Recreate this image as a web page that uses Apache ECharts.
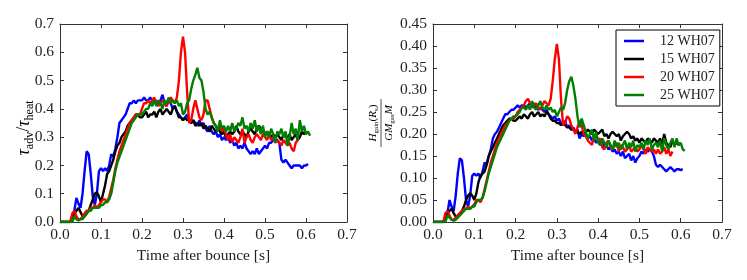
<!DOCTYPE html>
<html>
<head>
<meta charset="utf-8">
<script src="https://cdn.jsdelivr.net/npm/echarts@6/dist/echarts.min.js"></script>
<style>html,body{margin:0;padding:0;background:#fff}#c{width:747px;height:280px}</style>
</head>
<body>
<div id="c"></div>
<script>
// sampling times [s]
var times = [0,0.005,0.01,0.015,0.02,0.025,0.03,0.035,0.04,0.045,0.05,0.055,0.06,0.065,0.07,0.075,0.08,0.085,0.09,0.095,
0.1,0.105,0.11,0.115,0.12,0.125,0.13,0.135,0.14,0.145,0.15,0.155,0.16,0.165,0.17,0.175,0.18,0.185,0.19,0.195,
0.2,0.205,0.21,0.215,0.22,0.225,0.23,0.235,0.24,0.245,0.25,0.255,0.26,0.265,0.27,0.275,0.28,0.285,0.29,0.295,
0.3,0.305,0.31,0.315,0.32,0.325,0.33,0.335,0.34,0.345,0.35,0.355,0.36,0.365,0.37,0.375,0.38,0.385,0.39,0.395,
0.4,0.405,0.41,0.415,0.42,0.425,0.43,0.435,0.44,0.445,0.45,0.455,0.46,0.465,0.47,0.475,0.48,0.485,0.49,0.495,
0.5,0.505,0.51,0.515,0.52,0.525,0.53,0.535,0.54,0.545,0.55,0.555,0.56,0.565,0.57,0.575,0.58,0.585,0.59,0.595,
0.6,0.605,0.61];

var seriesNames = ['12 WH07','15 WH07','20 WH07','25 WH07'];
var seriesColors = ['#0000ff','#000000','#ff0000','#008000'];

// Left panel: tau_adv / tau_heat
var tau12 = [0,0,0,0,0,0,
0.01,0.04,0.085,0.065,0.05,0.10,0.18,0.25,0.24,0.17,
0.09,0.06,0.10,0.18,0.19,0.18,0.19,0.18,0.20,0.24,
0.23,0.26,0.30,0.35,0.36,0.37,0.38,0.40,0.42,0.42,
0.43,0.42,0.43,0.43,0.43,0.44,0.43,0.43,0.44,0.43,
0.42,0.43,0.42,0.43,0.45,0.42,0.41,0.43,0.42,0.40,
0.41,0.39,0.38,0.37,0.36,0.37,0.38,0.36,0.35,0.36,
0.35,0.34,0.36,0.34,0.35,0.33,0.32,0.34,0.32,0.31,
0.32,0.30,0.31,0.29,0.30,0.29,0.30,0.28,0.29,0.27,
0.28,0.26,0.27,0.26,0.28,0.26,0.25,0.24,0.25,0.24,
0.26,0.24,0.25,0.26,0.27,0.26,0.28,0.28,0.29,0.29,
0.29,0.28,0.22,0.21,0.22,0.21,0.20,0.19,0.20,0.20,
0.20,0.20,0.19,0.20,0.20,0.205];
var tau15 = [0,0,0,0,0,0,
0.02,0.03,0.04,0.05,0.035,0.02,0.02,0.03,0.04,0.06,
0.08,0.10,0.105,0.09,0.07,0.10,0.13,0.17,0.18,0.20,
0.22,0.25,0.27,0.28,0.30,0.31,0.32,0.34,0.35,0.36,
0.37,0.38,0.38,0.37,0.37,0.38,0.39,0.37,0.38,0.38,
0.39,0.37,0.39,0.40,0.38,0.39,0.40,0.39,0.38,0.40,
0.41,0.39,0.37,0.37,0.36,0.37,0.36,0.36,0.35,0.36,
0.34,0.35,0.34,0.35,0.33,0.34,0.33,0.32,0.34,0.33,
0.32,0.33,0.32,0.31,0.32,0.30,0.31,0.32,0.31,0.32,
0.34,0.32,0.31,0.32,0.31,0.30,0.32,0.33,0.32,0.31,
0.33,0.34,0.33,0.32,0.31,0.32,0.31,0.30,0.31,0.30,
0.31,0.30,0.29,0.31,0.30,0.30,0.31,0.29,0.30,0.31,
0.29,0.30,0.32,0.31,0.32];
var tau20 = [0,0,0,0,0,0,
0.03,0.04,0.02,0.01,0.01,0.02,0.03,0.04,0.04,0.05,
0.05,0.06,0.05,0.06,0.07,0.08,0.08,0.07,0.09,0.12,
0.15,0.19,0.22,0.25,0.27,0.29,0.31,0.33,0.35,0.36,
0.37,0.38,0.38,0.38,0.40,0.42,0.42,0.43,0.42,0.43,
0.44,0.42,0.41,0.42,0.43,0.42,0.41,0.43,0.44,0.43,
0.42,0.44,0.50,0.60,0.655,0.60,0.46,0.35,0.36,0.40,
0.43,0.40,0.37,0.36,0.38,0.43,0.43,0.40,0.37,0.35,
0.34,0.33,0.34,0.32,0.33,0.31,0.29,0.31,0.28,0.30,
0.29,0.28,0.30,0.33,0.28,0.30,0.31,0.29,0.28,0.30,
0.31,0.30,0.29,0.31,0.30,0.29,0.31,0.29,0.30,0.28,
0.29,0.28,0.27,0.29,0.28,0.27,0.28,0.26,0.25,0.28,
0.29];
var tau25 = [0,0,0,0,0,0,0,
0.02,0.01,0.005,0.01,0.01,0.02,0.03,0.04,0.04,0.05,
0.05,0.05,0.05,0.06,0.06,0.07,0.07,0.08,0.10,0.14,
0.18,0.21,0.23,0.25,0.27,0.29,0.31,0.33,0.35,0.36,
0.37,0.38,0.38,0.38,0.39,0.40,0.40,0.42,0.41,0.43,
0.41,0.43,0.42,0.40,0.43,0.42,0.44,0.42,0.43,0.42,
0.43,0.41,0.42,0.38,0.39,0.42,0.43,0.47,0.50,0.52,
0.545,0.51,0.50,0.46,0.40,0.38,0.39,0.37,0.35,0.34,
0.32,0.36,0.33,0.34,0.32,0.34,0.32,0.35,0.32,0.33,
0.35,0.34,0.37,0.33,0.34,0.32,0.35,0.33,0.36,0.32,
0.34,0.31,0.34,0.30,0.32,0.30,0.33,0.31,0.28,0.32,
0.31,0.33,0.30,0.32,0.27,0.30,0.35,0.31,0.33,0.29,
0.36,0.32,0.34,0.31,0.32,0.305];

// Right panel: H_gain(R_s) / (G M_gas M)
var heat12 = [0,0,0,0,0,0,
0.005,0.02,0.05,0.035,0.025,0.06,0.11,0.145,0.14,0.10,
0.05,0.035,0.06,0.105,0.11,0.105,0.11,0.10,0.115,0.135,
0.13,0.15,0.165,0.19,0.20,0.205,0.215,0.225,0.235,0.245,
0.245,0.25,0.255,0.255,0.26,0.265,0.26,0.265,0.265,0.26,
0.265,0.27,0.265,0.27,0.26,0.255,0.26,0.255,0.25,0.255,
0.245,0.24,0.235,0.24,0.23,0.235,0.225,0.22,0.23,0.215,
0.22,0.21,0.215,0.205,0.21,0.19,0.20,0.195,0.20,0.19,
0.195,0.185,0.19,0.18,0.185,0.175,0.18,0.17,0.175,0.165,
0.17,0.16,0.165,0.155,0.16,0.15,0.16,0.145,0.15,0.155,
0.14,0.15,0.135,0.145,0.15,0.16,0.155,0.165,0.16,0.165,
0.16,0.15,0.13,0.125,0.13,0.125,0.12,0.115,0.12,0.125,
0.12,0.115,0.12,0.12,0.118,0.12];
var heat15 = [0,0,0,0,0,0,
0.01,0.02,0.025,0.03,0.02,0.012,0.015,0.02,0.025,0.035,
0.05,0.06,0.065,0.06,0.05,0.065,0.09,0.105,0.11,0.115,
0.13,0.15,0.16,0.17,0.18,0.19,0.20,0.21,0.22,0.225,
0.23,0.235,0.235,0.23,0.23,0.235,0.24,0.235,0.245,0.24,
0.235,0.245,0.25,0.24,0.245,0.25,0.24,0.245,0.24,0.25,
0.245,0.235,0.23,0.23,0.225,0.225,0.22,0.225,0.22,0.215,
0.215,0.21,0.21,0.205,0.205,0.20,0.205,0.20,0.205,0.21,
0.205,0.20,0.21,0.205,0.20,0.205,0.21,0.195,0.20,0.19,
0.20,0.205,0.20,0.195,0.20,0.185,0.195,0.20,0.205,0.20,
0.19,0.195,0.185,0.19,0.18,0.19,0.185,0.18,0.19,0.185,
0.18,0.19,0.185,0.18,0.19,0.175,0.20,0.18,0.175,0.17,
0.185,0.175,0.18,0.175,0.18];
var heat20 = [0,0,0,0,0,0,
0.02,0.025,0.015,0.005,0.005,0.01,0.015,0.02,0.025,0.03,
0.03,0.035,0.03,0.035,0.04,0.05,0.05,0.045,0.055,0.075,
0.095,0.115,0.135,0.15,0.165,0.18,0.19,0.20,0.21,0.22,
0.225,0.23,0.235,0.235,0.24,0.25,0.255,0.26,0.265,0.275,
0.28,0.27,0.26,0.265,0.27,0.26,0.255,0.265,0.275,0.27,
0.265,0.28,0.32,0.37,0.405,0.37,0.28,0.22,0.225,0.24,
0.235,0.22,0.21,0.20,0.215,0.23,0.22,0.20,0.195,0.185,
0.18,0.175,0.195,0.20,0.185,0.19,0.17,0.165,0.18,0.185,
0.17,0.165,0.175,0.18,0.16,0.175,0.17,0.16,0.165,0.175,
0.16,0.165,0.17,0.16,0.165,0.175,0.165,0.155,0.17,0.165,
0.16,0.165,0.155,0.165,0.155,0.16,0.17,0.155,0.165,0.15,
0.16];
var heat25 = [0,0,0,0,0,0,0,
0.015,0.01,0.005,0.003,0.005,0.01,0.015,0.02,0.025,0.03,
0.03,0.03,0.035,0.035,0.045,0.05,0.05,0.055,0.07,0.09,
0.11,0.125,0.14,0.155,0.17,0.18,0.19,0.20,0.21,0.22,
0.23,0.235,0.24,0.24,0.245,0.25,0.26,0.26,0.255,0.265,
0.255,0.275,0.26,0.255,0.265,0.275,0.26,0.255,0.265,0.255,
0.26,0.25,0.255,0.24,0.25,0.26,0.255,0.27,0.30,0.32,
0.33,0.31,0.28,0.24,0.215,0.235,0.22,0.205,0.19,0.20,
0.21,0.185,0.205,0.18,0.175,0.19,0.18,0.17,0.185,0.175,
0.165,0.185,0.17,0.18,0.165,0.175,0.185,0.165,0.18,0.17,
0.185,0.16,0.175,0.17,0.18,0.165,0.185,0.175,0.19,0.165,
0.175,0.18,0.17,0.185,0.16,0.19,0.175,0.165,0.18,0.19,
0.17,0.19,0.175,0.18,0.165,0.162];

var leftTicks = [0,0.1,0.2,0.3,0.4,0.5,0.6,0.7];
var rightTicks = [0,0.05,0.1,0.15,0.2,0.25,0.3,0.35,0.4,0.45];

var SERIF = '"Liberation Serif","DejaVu Serif",serif';
var AX = '#333';
var FS = 15.5;

function pairs(vals){ return vals.map(function(v,i){ return [times[i], v]; }); }

function xAxes(gi){
  return [{
    type:'value', gridIndex:gi, position:'bottom', min:0, max:0.7, interval:0.1,
    axisLine:{show:true, onZero:false, lineStyle:{color:AX, width:1}},
    axisTick:{show:true, inside:true, length:4, lineStyle:{color:AX}},
    axisLabel:{show:true, margin:5, color:'#222', fontFamily:SERIF, fontSize:FS,
      formatter:function(v){return v.toFixed(1);}},
    splitLine:{show:false},
    name:'Time after bounce [s]', nameLocation:'middle', nameGap:23,
    nameTextStyle:{color:'#222', fontFamily:SERIF, fontSize:FS}
  },{
    type:'value', gridIndex:gi, position:'top', min:0, max:0.7, interval:0.1,
    axisLine:{show:true, onZero:false, lineStyle:{color:AX, width:1}},
    axisTick:{show:true, inside:true, length:4, lineStyle:{color:AX}},
    axisLabel:{show:false}, splitLine:{show:false}
  }];
}
function yAxes(gi, ticks, dec){
  var mx = ticks[ticks.length-1], step = ticks[1]-ticks[0];
  return [{
    type:'value', gridIndex:gi, position:'left', min:0, max:mx, interval:step,
    axisLine:{show:true, onZero:false, lineStyle:{color:AX, width:1}},
    axisTick:{show:true, inside:true, length:4, lineStyle:{color:AX}},
    axisLabel:{show:true, margin:6, color:'#222', fontFamily:SERIF, fontSize:FS,
      formatter:function(v){return v.toFixed(dec);}},
    splitLine:{show:false}
  },{
    type:'value', gridIndex:gi, position:'right', min:0, max:mx, interval:step,
    axisLine:{show:true, onZero:false, lineStyle:{color:AX, width:1}},
    axisTick:{show:true, inside:true, length:4, lineStyle:{color:AX}},
    axisLabel:{show:false}, splitLine:{show:false}
  }];
}

var leftData = [tau12, tau15, tau20, tau25];
var rightData = [heat12, heat15, heat20, heat25];
var series = [];
function addSeries(datasets, xi, yi){
  datasets.forEach(function(d,k){
    series.push({
      name:seriesNames[k], type:'line', xAxisIndex:xi, yAxisIndex:yi,
      data:pairs(d), showSymbol:false, symbol:'none', smooth:false,
      lineStyle:{color:seriesColors[k], width:2.4}, itemStyle:{color:seriesColors[k]},
      clip:true, animation:false, z:2+k
    });
  });
}
addSeries(leftData, 0, 0);
addSeries(rightData, 2, 2);

var chart = echarts.init(document.getElementById('c'), null, {renderer:'canvas'});
var subStyle = {fontFamily:SERIF, fontSize:12, fontStyle:'normal', color:'#222', verticalAlign:'bottom', lineHeight:24};
var mainStyle = {fontFamily:SERIF, fontSize:18, fontStyle:'italic', color:'#222', verticalAlign:'middle', lineHeight:24};
var slashStyle = {fontFamily:SERIF, fontSize:18, color:'#222', verticalAlign:'middle', lineHeight:24};
var smMain = {fontFamily:SERIF, fontSize:11, fontStyle:'italic', color:'#222', verticalAlign:'middle', lineHeight:14};
var smUp = {fontFamily:SERIF, fontSize:11, fontStyle:'normal', color:'#222', verticalAlign:'middle', lineHeight:14};
var smSub = {fontFamily:SERIF, fontSize:7, fontStyle:'normal', color:'#222', verticalAlign:'bottom', lineHeight:14};

chart.setOption({
  animation:false,
  backgroundColor:'#fff',
  grid:[
    {left:60, top:24, width:287, height:198},
    {left:433, top:24, width:289, height:198}
  ],
  xAxis: xAxes(0).concat(xAxes(1)),
  yAxis: yAxes(0, leftTicks, 1).concat(yAxes(1, rightTicks, 2)),
  legend:{
    data:seriesNames, orient:'vertical', left:616, top:30,
    icon:'rect', itemWidth:20, itemHeight:2.5, itemGap:4,
    padding:[4,5,4,8], borderColor:'#000', borderWidth:1, backgroundColor:'#fff',
    textStyle:{fontFamily:SERIF, fontSize:14, color:'#222', lineHeight:14, padding:[0,0,0,11]},
    z:10
  },
  graphic:[
    {type:'text', x:24, y:128, rotation:Math.PI/2,
     style:{text:'{m|τ}{s|adv}{u|/}{m|τ}{s|heat}', align:'center', verticalAlign:'middle',
       rich:{m:mainStyle, s:subStyle, u:slashStyle}}},
    {type:'group', x:381, y:123, rotation:Math.PI/2, children:[
      {type:'text', x:0, y:-1, style:{text:'{m|H}{s|gain}{u|(}{m|R}{s|s}{u|)}', align:'center', verticalAlign:'bottom',
        rich:{m:smMain, s:smSub, u:smUp}}},
      {type:'line', shape:{x1:-24, y1:0, x2:24, y2:0}, style:{stroke:'#222', lineWidth:0.8}},
      {type:'text', x:0, y:1, style:{text:'{m|GM}{s|gas}{m|M}', align:'center', verticalAlign:'top',
        rich:{m:smMain, s:smSub}}}
    ]}
  ],
  series:series
});
</script>
</body>
</html>
